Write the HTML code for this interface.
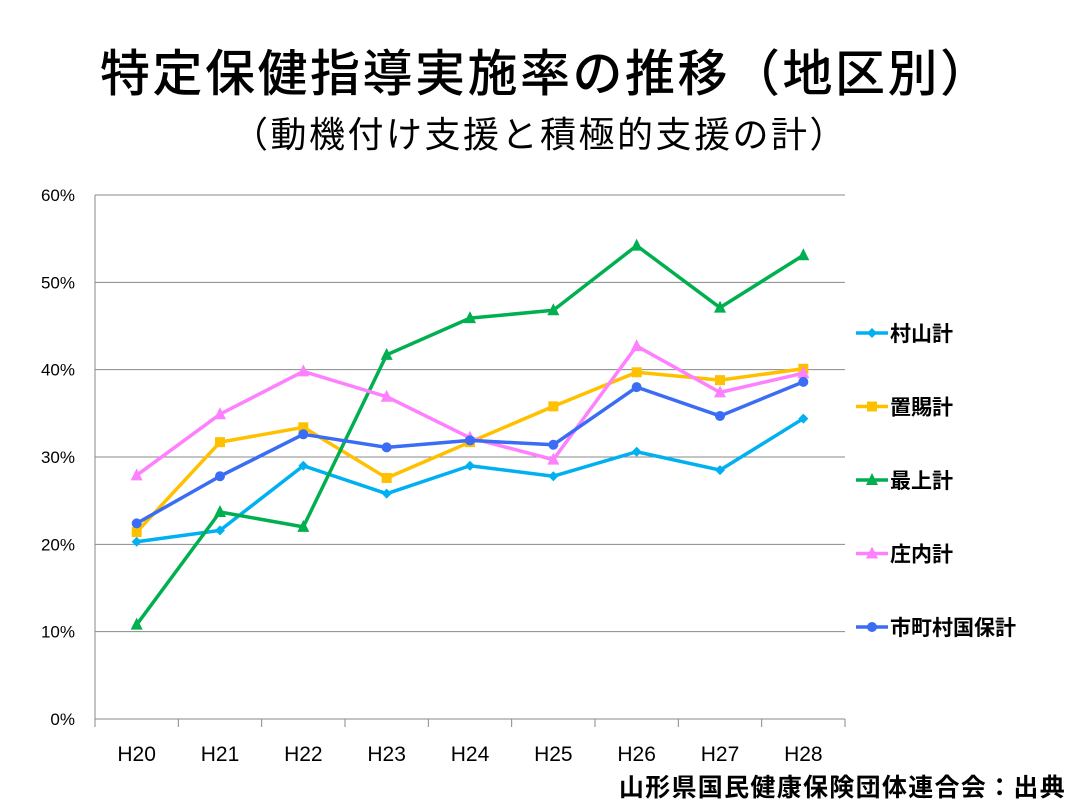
<!DOCTYPE html>
<html><head><meta charset="utf-8">
<style>
body{margin:0;background:#fff;}
#wrap{position:relative;width:1080px;height:810px;overflow:hidden;font-family:"Liberation Sans","Noto Sans CJK JP",sans-serif;}
.t{position:absolute;white-space:nowrap;color:#000;}
</style></head>
<body>
<div id="wrap">
<div class="t" style="left:100px;top:34px;font-size:50px;letter-spacing:2.5px;font-weight:500;">特定保健指導実施率の推移（地区別）</div>
<div class="t" style="left:232px;top:106px;font-size:36px;letter-spacing:2.5px;">（動機付け支援と積極的支援の計）</div>
<svg id="chart" width="1080" height="810" style="position:absolute;left:0;top:0"></svg>
<div class="t" style="right:14px;top:768px;font-size:25px;font-weight:bold;letter-spacing:1.3px;">山形県国民健康保険団体連合会：出典</div>
</div>
<script>
const categories=["H20","H21","H22","H23","H24","H25","H26","H27","H28"];
const yTicks=[0,10,20,30,40,50,60];
const seriesNames=["村山計","置賜計","最上計","庄内計","市町村国保計"];
const murayama=[20.3,21.6,29.0,25.8,29.0,27.8,30.6,28.5,34.4];
const okitama=[21.4,31.7,33.4,27.6,31.7,35.8,39.7,38.8,40.1];
const mogami=[10.8,23.7,22.0,41.7,45.9,46.8,54.2,47.1,53.1];
const shonai=[27.9,34.9,39.8,36.9,32.2,29.7,42.7,37.4,39.6];
const total=[22.4,27.8,32.6,31.1,31.9,31.4,38.0,34.7,38.6];
const allSeries=[murayama,okitama,mogami,shonai,total];
const colors=["#00b0f0","#ffc000","#00b050","#ff80ff","#3a6cf4"];
const markers=["diamond","square","triangle","triangle","circle"];
const NS="http://www.w3.org/2000/svg";
const svg=document.getElementById('chart');
const L=95,R=845,T=195,B=719;
const x=i=>L+(i+0.5)*(R-L)/categories.length;
const y=v=>B-(v/60)*(B-T);
function mk(tag,attrs){const e=document.createElementNS(NS,tag);for(const k in attrs)e.setAttribute(k,attrs[k]);svg.appendChild(e);return e;}
yTicks.forEach(v=>{
 const g=mk('line',{x1:L,x2:R,y1:y(v),y2:y(v),stroke:'#888','stroke-width':1});
 
 
 const t=mk('text',{x:L-20,y:y(v)+6,'text-anchor':'end','font-size':17,'font-family':'Liberation Sans, sans-serif'});
 t.textContent=v+'%';
 
 
});
const ax=mk('line',{x1:L,x2:L,y1:T,y2:B+8,stroke:'#888','stroke-width':1});


categories.forEach((c,i)=>{
 const tk=mk('line',{x1:L+(i+1)*(R-L)/categories.length,x2:L+(i+1)*(R-L)/categories.length,y1:B,y2:B+8,stroke:'#888'});
 
 
 const t=mk('text',{x:x(i),y:B+42,'text-anchor':'middle','font-size':21,'font-family':'Liberation Sans, sans-serif'});
 t.textContent=c;
 
 
});
function marker(type,cx,cy,col,s){
 let e;
 if(type==='diamond')e=mk('polygon',{points:`${cx},${cy-s} ${cx+s},${cy} ${cx},${cy+s} ${cx-s},${cy}`,fill:col});
 else if(type==='square')e=mk('rect',{x:cx-s,y:cy-s,width:2*s,height:2*s,fill:col});
 else if(type==='triangle')e=mk('polygon',{points:`${cx},${cy-s-1} ${cx+s},${cy+s-1} ${cx-s},${cy+s-1}`,fill:col});
 else e=mk('circle',{cx:cx,cy:cy,r:s,fill:col});
 return e;
}
const ms=[5,5,6,6,5];
allSeries.forEach((d,si)=>{
 const p=mk('polyline',{points:d.map((v,i)=>x(i)+','+y(v)).join(' '),fill:'none',stroke:colors[si],'stroke-width':3.5,'stroke-linejoin':'round'});
 
 
 d.forEach((v,i)=>{
  const m=marker(markers[si],x(i),y(v),colors[si],ms[si]);
  
  
 });
 const ly=333+si*73.5;
 const ll=mk('line',{x1:856,x2:888,y1:ly,y2:ly,stroke:colors[si],'stroke-width':3.5});
 
 
 const lm=marker(markers[si],872,ly,colors[si],ms[si]);
 
 
 const lt=mk('text',{x:890,y:ly+8,'font-size':21,'font-weight':'bold','font-family':'Liberation Sans, Noto Sans CJK JP, sans-serif'});
 lt.textContent=seriesNames[si];
 
 
});
</script>
</body></html>
